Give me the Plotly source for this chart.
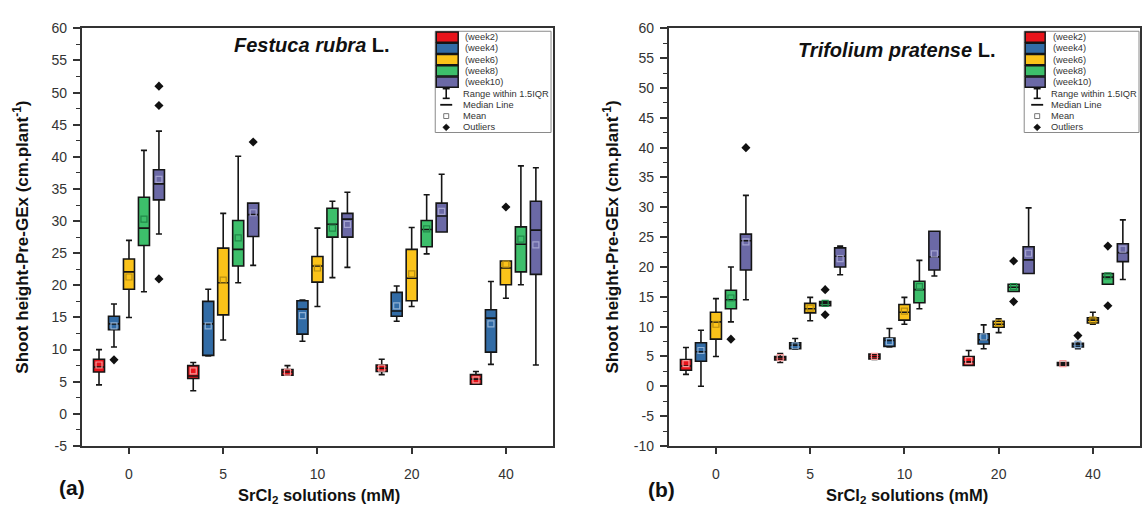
import plotly.graph_objects as go

W, H = 1142, 515

# ---------------- data ----------------
conc_labels = ["0", "5", "10", "20", "40"]
week_names = ["(week2)", "(week4)", "(week6)", "(week8)", "(week10)"]
week_colors = ["#e8141b", "#326ca6", "#fbc31a", "#3dbf6b", "#6b69a6"]
mean_colors = ["#f59a9a", "#8fb0d4", "#b98f12", "#22894a", "#a3a2cf"]
fr_yticks = [-5, 0, 5, 10, 15, 20, 25, 30, 35, 40, 45, 50, 55, 60]
tp_yticks = [-10, -5, 0, 5, 10, 15, 20, 25, 30, 35, 40, 45, 50, 55, 60]

# Festuca rubra L. : rows = weeks (2,4,6,8,10), cols = concentrations (0,5,10,20,40)
fr_lower = [[4.5, 3.6, 6.0, 6.1, 4.6],
            [10.4, 9.0, 11.3, 14.4, 7.7],
            [15.0, 11.5, 16.7, 16.7, 18.0],
            [19.0, 20.4, 21.2, 24.9, 20.1],
            [28.0, 23.1, 22.8, 28.3, 7.6]]
fr_q1 = [[6.5, 5.5, 6.0, 6.6, 4.6],
         [13.1, 9.1, 12.4, 15.2, 9.6],
         [19.4, 15.4, 20.5, 17.6, 20.1],
         [26.2, 23.0, 27.5, 26.0, 22.1],
         [33.3, 27.6, 27.5, 28.3, 21.7]]
fr_median = [[7.3, 5.9, 6.5, 7.1, 5.4],
             [14.0, 14.0, 16.3, 16.0, 14.9],
             [22.1, 20.4, 23.0, 21.1, 22.7],
             [28.9, 25.6, 29.5, 28.7, 26.4],
             [35.8, 31.0, 30.3, 30.8, 28.6]]
fr_q3 = [[8.5, 7.5, 6.9, 7.6, 6.1],
         [15.2, 17.5, 17.6, 18.9, 16.2],
         [24.1, 25.8, 24.5, 25.6, 23.8],
         [33.7, 30.1, 32.0, 30.1, 29.1],
         [38.0, 32.8, 31.2, 32.8, 33.1]]
fr_upper = [[10.0, 8.0, 7.5, 8.5, 6.6],
            [17.1, 19.4, 17.7, 19.9, 20.6],
            [27.0, 31.2, 28.9, 29.0, 23.8],
            [41.0, 40.1, 33.1, 34.1, 38.6],
            [44.0, 32.8, 34.5, 37.3, 38.3]]
fr_mean = [[7.6, 6.7, 6.5, 7.1, 5.3],
           [13.7, 13.7, 15.3, 16.8, 14.0],
           [21.3, 20.8, 22.7, 21.8, 23.3],
           [30.3, 27.4, 28.9, 28.8, 27.2],
           [36.5, 31.3, 29.5, 31.5, 26.3]]
fr_out_week = [1, 4, 4, 4, 4, 2]
fr_out_conc = [0, 0, 0, 0, 1, 4]
fr_out_val = [8.4, 51.0, 48.0, 21.0, 42.3, 32.2]

# Trifolium pratense L.
tp_lower = [[2.0, 4.0, 4.5, 3.5, 3.5],
            [0.0, 6.2, 6.6, 6.3, 6.3],
            [5.0, 11.0, 10.4, 9.0, 10.4],
            [10.8, 13.5, 13.0, 15.9, 17.1],
            [14.5, 18.7, 18.5, 18.9, 17.9]]
tp_q1 = [[2.7, 4.4, 4.6, 3.5, 3.5],
         [4.2, 6.3, 6.7, 7.1, 6.6],
         [7.9, 12.3, 11.1, 9.9, 10.6],
         [13.0, 13.5, 14.0, 15.9, 17.1],
         [19.5, 20.0, 19.5, 18.9, 20.9]]
tp_median = [[3.4, 4.8, 5.0, 4.1, 3.8],
             [5.8, 6.9, 7.7, 7.8, 7.0],
             [10.8, 13.0, 12.4, 10.4, 11.1],
             [14.5, 13.9, 16.2, 16.6, 18.3],
             [24.4, 21.8, 21.7, 21.2, 22.4]]
tp_q3 = [[4.5, 5.0, 5.4, 5.0, 4.0],
         [7.3, 7.3, 8.1, 8.8, 7.2],
         [12.4, 13.9, 13.7, 10.9, 11.5],
         [16.1, 14.2, 17.6, 17.1, 18.9],
         [25.5, 23.2, 26.0, 23.4, 23.9]]
tp_upper = [[6.5, 5.5, 5.4, 6.0, 4.0],
            [9.4, 8.0, 9.7, 10.3, 7.5],
            [14.7, 14.9, 14.9, 11.3, 12.4],
            [20.0, 14.2, 21.1, 17.1, 18.9],
            [32.0, 23.5, 26.0, 29.9, 27.9]]
tp_mean = [[3.8, 4.8, 5.0, 4.3, 3.8],
           [6.0, 6.8, 7.5, 8.3, 7.0],
           [10.4, 13.1, 12.6, 10.6, 11.1],
           [14.8, 13.9, 16.7, 16.7, 18.5],
           [24.2, 21.4, 22.2, 22.3, 23.0]]
tp_out_week = [3, 4, 3, 3, 3, 3, 1, 3, 3]
tp_out_conc = [0, 0, 1, 1, 3, 3, 4, 4, 4]
tp_out_val = [7.9, 40.0, 16.2, 12.0, 21.0, 14.2, 8.5, 23.5, 13.5]

legend_extra = ["Range within 1.5IQR", "Median Line", "Mean", "Outliers"]

# ---------------- styling constants ----------------
SP = 0.159     # spacing between weeks within a group (category units)
BW = 0.117     # box width (category units)
FONT = "Arial, Liberation Sans, sans-serif"
AX = "#333333"

def px(x):
    return x / W

def py(y):
    return 1 - y / H

fig = go.Figure()

panels = [
    dict(lower=fr_lower, q1=fr_q1, med=fr_median, q3=fr_q3, upper=fr_upper, mean=fr_mean,
         ow=fr_out_week, oc=fr_out_conc, ov=fr_out_val, xa="x", ya="y"),
    dict(lower=tp_lower, q1=tp_q1, med=tp_median, q3=tp_q3, upper=tp_upper, mean=tp_mean,
         ow=tp_out_week, oc=tp_out_conc, ov=tp_out_val, xa="x2", ya="y2"),
]

for p in panels:
    for w in range(5):
        xs = [i + (w - 2) * SP for i in range(len(conc_labels))]
        fig.add_trace(go.Box(
            x=xs, q1=p["q1"][w], median=p["med"][w], q3=p["q3"][w],
            lowerfence=p["lower"][w], upperfence=p["upper"][w], boxmean=False,
            width=BW, fillcolor=week_colors[w], line=dict(color="#151515", width=1.6),
            whiskerwidth=0.55, boxpoints=False, name=week_names[w], showlegend=False,
            xaxis=p["xa"], yaxis=p["ya"]))
        fig.add_trace(go.Scatter(
            x=xs, y=p["mean"][w], mode="markers", showlegend=False, hoverinfo="skip",
            marker=dict(symbol="square-open", size=6, color=mean_colors[w], line=dict(width=1.2)),
            xaxis=p["xa"], yaxis=p["ya"]))
    ox = [c + (w - 2) * SP for w, c in zip(p["ow"], p["oc"])]
    fig.add_trace(go.Scatter(
        x=ox, y=p["ov"], mode="markers", showlegend=False, name="Outliers",
        marker=dict(symbol="diamond", size=7, color="#111111"),
        xaxis=p["xa"], yaxis=p["ya"]))

common_x = dict(range=[-0.5, 4.5], tickmode="array", tickvals=list(range(5)), ticktext=conc_labels,
                showline=True, mirror=True, linewidth=2, linecolor=AX, ticks="outside",
                ticklen=6, tickwidth=1.5, tickcolor=AX, showgrid=False, zeroline=False,
                tickfont=dict(family=FONT, size=14, color=AX), ticklabelstandoff=8)
common_y = dict(showline=True, mirror=True, linewidth=2, linecolor=AX,
                ticks="outside", ticklen=7, tickwidth=1.5, tickcolor=AX, showgrid=False,
                zeroline=False, tickfont=dict(family=FONT, size=14, color=AX),
                ticklabelstandoff=3,
                minor=dict(tickmode="linear", tick0=0, dtick=2.5, ticks="outside", ticklen=4,
                           tickwidth=1.2, tickcolor=AX, showgrid=False))

fig.update_layout(
    width=W, height=H, margin=dict(l=0, r=0, t=0, b=0),
    paper_bgcolor="white", plot_bgcolor="white", boxmode="overlay", showlegend=False,
    xaxis=dict(domain=[px(82), px(554)], anchor="y", **common_x),
    yaxis=dict(domain=[py(452), py(21)], anchor="x", range=[-5, 60], tickmode="array",
               tickvals=fr_yticks, ticktext=[str(v) for v in fr_yticks], **common_y),
    xaxis2=dict(domain=[px(670), 1.0], anchor="y2", **common_x),
    yaxis2=dict(domain=[py(452), py(21)], anchor="x2", range=[-10, 60], tickmode="array",
                tickvals=tp_yticks, ticktext=[str(v) for v in tp_yticks], **common_y),
)

ann = []
shapes = []

def text(x, y, t, size, xanchor="center", angle=0, color="#111111"):
    ann.append(dict(x=px(x), y=py(y), xref="paper", yref="paper", text=t, showarrow=False,
                    xanchor=xanchor, yanchor="middle", textangle=angle,
                    font=dict(family=FONT, size=size, color=color)))

# titles / labels
text(313, 38, "<b><i>Festuca rubra</i> L.</b>", 20)
text(898, 43, "<b><i>Trifolium pratense</i> L.</b>", 20)
for cx in (21, 612):
    text(cx, 236, "<b>Shoot height-Pre-GEx (cm.plant<sup>-1</sup>)</b>", 17, angle=-90)
text(320, 504, "<b>SrCl<sub>2</sub> solutions (mM)</b>", 16.5)
text(909, 504, "<b>SrCl<sub>2</sub> solutions (mM)</b>", 16.5)
text(72, 495, "<b>(a)</b>", 21)
text(663, 497, "<b>(b)</b>", 21)

# legends (drawn as annotations + shapes)
ROW0, ROWH = 30, 11.65
LF = 9.3
for (lx0, lx1, sx0, sx1, tx, sym_x, tx2) in [(436, 552, 437, 459, 464, 447, 462),
                                              (1026, 1141, 1027, 1047, 1053, 1039, 1051)]:
    shapes.append(dict(type="rect", xref="paper", yref="paper", x0=px(lx0), x1=px(lx1),
                       y0=py(24), y1=py(128.5), line=dict(color="#8a8a8a", width=1),
                       fillcolor="white", layer="above"))
    for w in range(5):
        yc = ROW0 + w * ROWH
        shapes.append(dict(type="rect", xref="paper", yref="paper", x0=px(sx0), x1=px(sx1),
                           y0=py(yc + 5.3), y1=py(yc - 5.3), fillcolor=week_colors[w],
                           line=dict(color="#151515", width=1.5), layer="above"))
        text(tx, yc, week_names[w], LF, xanchor="left", color="#333333")
    # range within 1.5IQR symbol
    yc = ROW0 + 5 * ROWH
    for (a, b, c, d) in [(sym_x, yc - 5, sym_x, yc + 5), (sym_x - 3.5, yc - 5, sym_x + 3.5, yc - 5),
                         (sym_x - 3.5, yc + 5, sym_x + 3.5, yc + 5)]:
        shapes.append(dict(type="line", xref="paper", yref="paper", x0=px(a), y0=py(b),
                           x1=px(c), y1=py(d), line=dict(color="#111111", width=1.6), layer="above"))
    # median line symbol
    yc = ROW0 + 6 * ROWH
    shapes.append(dict(type="line", xref="paper", yref="paper", x0=px(sym_x - 6), y0=py(yc),
                       x1=px(sym_x + 6), y1=py(yc), line=dict(color="#111111", width=1.8), layer="above"))
    # mean symbol
    yc = ROW0 + 7 * ROWH
    shapes.append(dict(type="rect", xref="paper", yref="paper", x0=px(sym_x - 2.5), y0=py(yc + 2.5),
                       x1=px(sym_x + 2.5), y1=py(yc - 2.5), line=dict(color="#777777", width=1),
                       layer="above"))
    # outlier symbol (diamond)
    yc = ROW0 + 8 * ROWH
    d = 3.5
    path = "M {} {} L {} {} L {} {} L {} {} Z".format(px(sym_x), py(yc - d), px(sym_x + d), py(yc),
                                                     px(sym_x), py(yc + d), px(sym_x - d), py(yc))
    shapes.append(dict(type="path", xref="paper", yref="paper", path=path, fillcolor="#111111",
                       line=dict(color="#111111", width=0.5), layer="above"))
    for k, lab in enumerate(legend_extra):
        text(tx2, ROW0 + (5 + k) * ROWH, lab, LF, xanchor="left", color="#333333")

fig.update_layout(annotations=ann, shapes=shapes)
fig.write_html("out.html")
